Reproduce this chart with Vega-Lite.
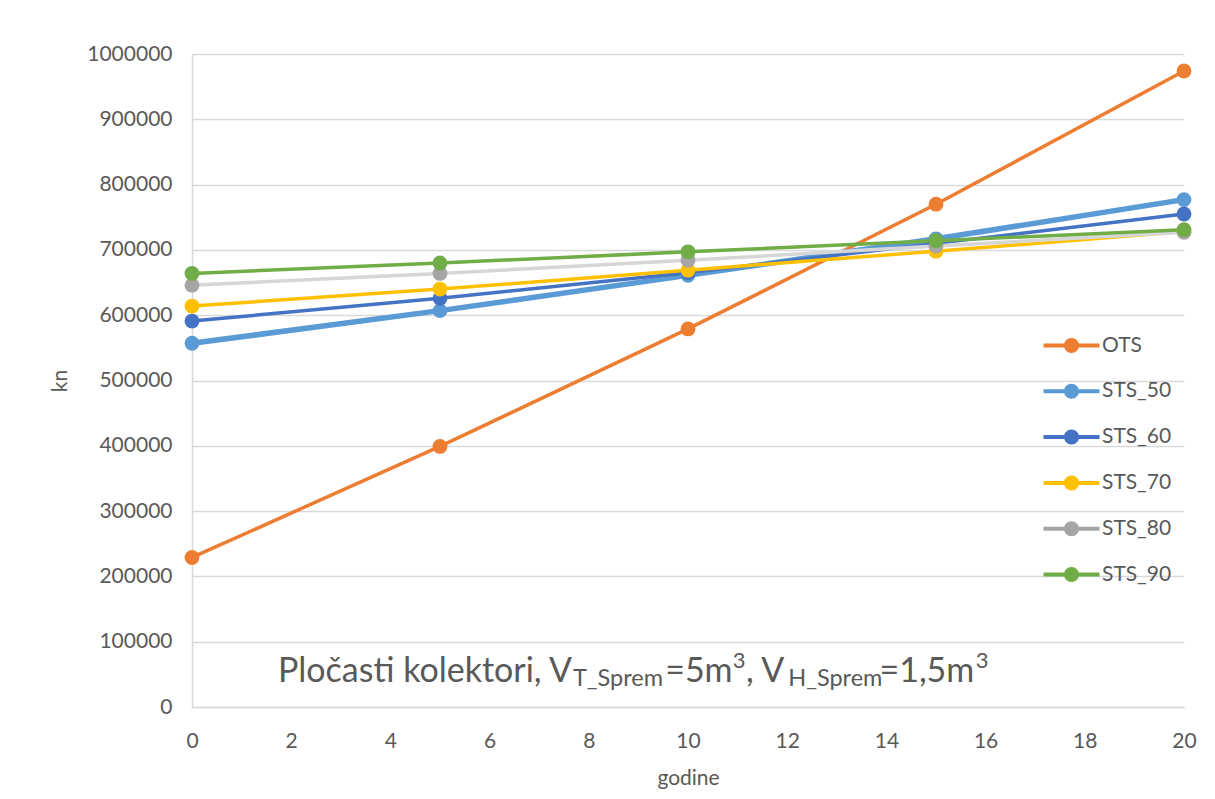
{
  "$schema": "https://vega.github.io/schema/vega-lite/v6.json",
  "width": 992,
  "height": 653,
  "autosize": {"type": "none"},
  "padding": {"left": 192, "top": 54, "right": 31, "bottom": 92},
  "background": "white",
  "config": {
    "view": {"stroke": null},
    "font": "Lato",
    "axis": {
      "labelFont": "Lato",
      "labelFontSize": 21,
      "labelColor": "#595959",
      "titleFont": "Lato",
      "titleFontSize": 21,
      "titleFontWeight": "normal",
      "titleColor": "#595959",
      "domainColor": "#D9D9D9",
      "domainWidth": 1.5,
      "ticks": false,
      "gridColor": "#D9D9D9",
      "gridWidth": 1.3
    }
  },
  "data": {
    "values": [
      {"series": "OTS", "year": 0, "kn": 229000},
      {"series": "OTS", "year": 5, "kn": 399000},
      {"series": "OTS", "year": 10, "kn": 579000},
      {"series": "OTS", "year": 15, "kn": 770000},
      {"series": "OTS", "year": 20, "kn": 974000},
      {"series": "STS_50", "year": 0, "kn": 557000},
      {"series": "STS_50", "year": 5, "kn": 607000},
      {"series": "STS_50", "year": 10, "kn": 661000},
      {"series": "STS_50", "year": 15, "kn": 717000},
      {"series": "STS_50", "year": 20, "kn": 777000},
      {"series": "STS_60", "year": 0, "kn": 591000},
      {"series": "STS_60", "year": 5, "kn": 626000},
      {"series": "STS_60", "year": 10, "kn": 665000},
      {"series": "STS_60", "year": 15, "kn": 710000},
      {"series": "STS_60", "year": 20, "kn": 755000},
      {"series": "STS_70", "year": 0, "kn": 614000},
      {"series": "STS_70", "year": 5, "kn": 640000},
      {"series": "STS_70", "year": 10, "kn": 669000},
      {"series": "STS_70", "year": 15, "kn": 698000},
      {"series": "STS_70", "year": 20, "kn": 728000},
      {"series": "STS_80", "year": 0, "kn": 646000},
      {"series": "STS_80", "year": 5, "kn": 664000},
      {"series": "STS_80", "year": 10, "kn": 684000},
      {"series": "STS_80", "year": 15, "kn": 706000},
      {"series": "STS_80", "year": 20, "kn": 727000},
      {"series": "STS_90", "year": 0, "kn": 664000},
      {"series": "STS_90", "year": 5, "kn": 680000},
      {"series": "STS_90", "year": 10, "kn": 697000},
      {"series": "STS_90", "year": 15, "kn": 714000},
      {"series": "STS_90", "year": 20, "kn": 731000}
    ]
  },
  "layer": [
    {
      "mark": {"type": "line", "strokeJoin": "round", "strokeCap": "round"},
      "encoding": {
        "x": {
          "field": "year",
          "type": "quantitative",
          "scale": {"domain": [0, 20], "nice": false},
          "axis": {
            "values": [0, 2, 4, 6, 8, 10, 12, 14, 16, 18, 20],
            "grid": false,
            "labelPadding": 23,
            "labelFlush": false,
            "title": "godine",
            "titlePadding": 16
          }
        },
        "y": {
          "field": "kn",
          "type": "quantitative",
          "scale": {"domain": [0, 1000000], "nice": false},
          "axis": {
            "values": [0, 100000, 200000, 300000, 400000, 500000, 600000, 700000, 800000, 900000, 1000000],
            "format": "d",
            "grid": true,
            "labelPadding": 20,
            "title": "kn",
            "titlePadding": 16
          }
        },
        "stroke": {
          "field": "series",
          "type": "nominal",
          "scale": {
            "domain": ["STS_90", "STS_80", "STS_70", "STS_60", "STS_50", "OTS"],
            "range": ["#70AD47", "#D6D6D6", "#FFC000", "#4472C4", "#5B9BD5", "#ED7D31"]
          },
          "legend": null
        },
        "strokeWidth": {
          "condition": {"test": "datum.series === 'STS_50'", "value": 5.5},
          "value": 3.5
        }
      }
    },
    {
      "mark": {"type": "point", "filled": true, "size": 220, "opacity": 1},
      "encoding": {
        "x": {"field": "year", "type": "quantitative"},
        "y": {"field": "kn", "type": "quantitative"},
        "color": {
          "field": "series",
          "type": "nominal",
          "scale": {
            "domain": ["OTS", "STS_50", "STS_60", "STS_70", "STS_80", "STS_90"],
            "range": ["#ED7D31", "#5B9BD5", "#4472C4", "#FFC000", "#A5A5A5", "#70AD47"]
          },
          "legend": {
            "orient": "none",
            "legendX": 869,
            "legendY": 281,
            "title": null,
            "padding": 0,
            "symbolType": "M-2.8,-0.2L-0.7,-0.2L-0.7,0.2L-2.8,0.2Z M0.7,-0.2L2.8,-0.2L2.8,0.2L0.7,0.2Z M-0.75,0A0.75,0.75,0,1,1,0.75,0A0.75,0.75,0,1,1,-0.75,0Z",
            "symbolSize": 400,
            "symbolStrokeWidth": 0,
            "labelFont": "Lato",
            "labelFontSize": 21,
            "labelColor": "#595959",
            "labelOffset": 20,
            "rowPadding": 23.8
          }
        }
      }
    },
    {
      "data": {"values": [{}]},
      "mark": {"type": "text", "align": "left", "baseline": "alphabetic", "fontSize": 34, "font": "Lato", "color": "#595959"},
      "encoding": {"x": {"datum": 1.734}, "y": {"datum": 38800}, "text": {"value": "Pločasti kolektori, V"}}
    },
    {
      "data": {"values": [{}]},
      "mark": {"type": "text", "align": "left", "baseline": "alphabetic", "fontSize": 23.5, "font": "Lato", "color": "#595959"},
      "encoding": {"x": {"datum": 7.68}, "y": {"datum": 31900}, "text": {"value": "T_Sprem"}}
    },
    {
      "data": {"values": [{}]},
      "mark": {"type": "text", "align": "left", "baseline": "alphabetic", "fontSize": 34, "font": "Lato", "color": "#595959"},
      "encoding": {"x": {"datum": 9.54}, "y": {"datum": 38800}, "text": {"value": "=5m"}}
    },
    {
      "data": {"values": [{}]},
      "mark": {"type": "text", "align": "left", "baseline": "alphabetic", "fontSize": 22, "font": "Lato", "color": "#595959"},
      "encoding": {"x": {"datum": 10.9}, "y": {"datum": 60300}, "text": {"value": "3"}}
    },
    {
      "data": {"values": [{}]},
      "mark": {"type": "text", "align": "left", "baseline": "alphabetic", "fontSize": 34, "font": "Lato", "color": "#595959"},
      "encoding": {"x": {"datum": 11.17}, "y": {"datum": 38800}, "text": {"value": ", V"}}
    },
    {
      "data": {"values": [{}]},
      "mark": {"type": "text", "align": "left", "baseline": "alphabetic", "fontSize": 23.5, "font": "Lato", "color": "#595959"},
      "encoding": {"x": {"datum": 12.02}, "y": {"datum": 31900}, "text": {"value": "H_Sprem"}}
    },
    {
      "data": {"values": [{}]},
      "mark": {"type": "text", "align": "left", "baseline": "alphabetic", "fontSize": 34, "font": "Lato", "color": "#595959"},
      "encoding": {"x": {"datum": 13.86}, "y": {"datum": 38800}, "text": {"value": "=1,5m"}}
    },
    {
      "data": {"values": [{}]},
      "mark": {"type": "text", "align": "left", "baseline": "alphabetic", "fontSize": 22, "font": "Lato", "color": "#595959"},
      "encoding": {"x": {"datum": 15.8}, "y": {"datum": 60300}, "text": {"value": "3"}}
    }
  ]
}
